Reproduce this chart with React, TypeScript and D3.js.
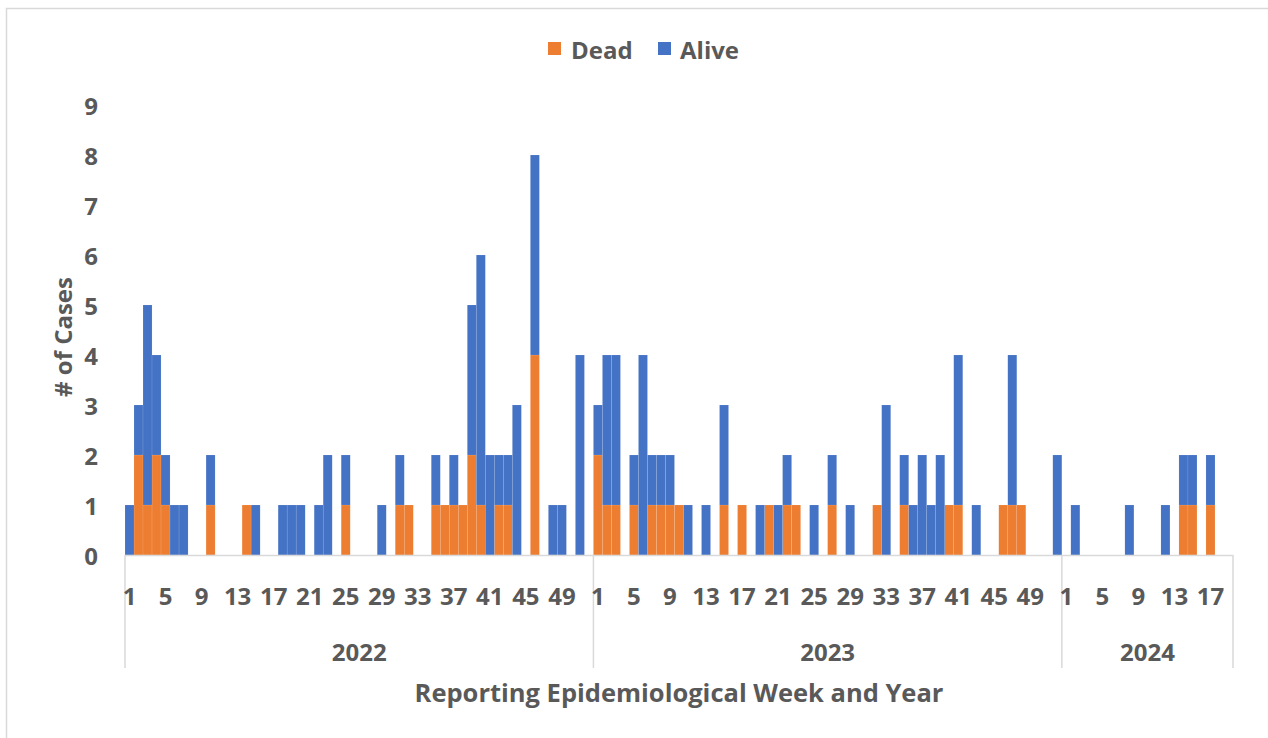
import React from "react";
import * as d3 from "d3";

const years = ["2022", "2023", "2024"];
const weeksPerYear = [52, 52, 19];

const dead2022 = [0,2,1,2,1,0,0,0,0,1, 0,0,0,1,0,0,0,0,0,0, 0,0,0,0,1,0,0,0,0,0, 1,1,0,0,1,1,1,1,2,1, 0,1,1,0,0,4,0,0,0,0, 0,0];
const alive2022 = [1,1,4,2,1,1,1,0,0,1, 0,0,0,0,1,0,0,1,1,1, 0,1,2,0,1,0,0,0,1,0, 1,0,0,0,1,0,1,0,3,5, 2,1,1,3,0,4,0,1,1,0, 4,0];
const dead2023 = [2,1,1,0,1,0,1,1,1,1, 0,0,0,0,1,0,1,0,0,1, 0,1,1,0,0,0,1,0,0,0, 0,1,0,0,1,0,0,0,0,1, 1,0,0,0,0,1,1,1,0,0, 0,0];
const alive2023 = [1,3,3,0,1,4,1,1,1,0, 1,0,1,0,2,0,0,0,1,0, 1,1,0,0,1,0,1,0,1,0, 0,0,3,0,1,1,2,1,2,0, 3,0,1,0,0,0,3,0,0,0, 0,2];
const dead2024 = [0,0,0,0,0,0,0,0,0,0, 0,0,0,1,1,0,1,0,0];
const alive2024 = [0,1,0,0,0,0,0,1,0,0, 0,1,0,1,1,0,1,0,0];

const yTicks = [0, 1, 2, 3, 4, 5, 6, 7, 8, 9];
const weekLabelStep = 4;

const deadByYear = [dead2022, dead2023, dead2024];
const aliveByYear = [alive2022, alive2023, alive2024];

type Row = { key: string; year: string; week: number; dead: number; alive: number };
const rows: Row[] = [];
years.forEach((y, yi) => {
  for (let w = 1; w <= weeksPerYear[yi]; w++) {
    rows.push({ key: `${y}-${w}`, year: y, week: w, dead: deadByYear[yi][w - 1], alive: aliveByYear[yi][w - 1] });
  }
});

const ORANGE = "#ED7D31";
const BLUE = "#4472C4";
const TEXT = "#595959";
const AXIS = "#D9D9D9";
const FONT = "'Open Sans', 'Noto Sans', sans-serif";
const FS = 24;

export default function App() {
  const W = 1268, H = 738;
  const left = 125, right = 1233, base = 555, top = 105;
  const x = d3.scaleBand<string>().domain(rows.map(r => r.key)).range([left, right]).padding(0);
  const y = d3.scaleLinear().domain([0, 9]).range([base, top]);
  const stack = d3.stack<Row>().keys(["dead", "alive"]);
  const series = stack(rows);
  const colors = [ORANGE, BLUE];

  const yearBounds = years.map(yr => {
    const rs = rows.filter(r => r.year === yr);
    const x0 = x(rs[0].key)!;
    const x1 = x(rs[rs.length - 1].key)! + x.bandwidth();
    return { yr, x0, x1 };
  });

  return (
    <svg width={W} height={H} style={{ position: "absolute", left: 0, top: 0, background: "#fff" }} fontFamily={FONT}>
      <rect x={6.5} y={8.5} width={W} height={H} fill="#fff" stroke={AXIS} strokeWidth={1.5} />
      {/* legend */}
      <g fontWeight="bold" fontSize={FS} fill={TEXT}>
        <rect x={548} y={42} width={13} height={13} fill={ORANGE} />
        <text x={571} y={49} dominantBaseline="central">Dead</text>
        <rect x={658} y={42} width={13} height={13} fill={BLUE} />
        <text x={680} y={49} dominantBaseline="central">Alive</text>
      </g>
      {/* bars */}
      {series.map((s, si) => (
        <g key={si} fill={colors[si]}>
          {s.map((d, i) => d[1] - d[0] > 0 ? (
            <rect key={i} x={x(rows[i].key)!} y={y(d[1])} width={x.bandwidth()} height={y(d[0]) - y(d[1])}
              stroke="#fff" strokeOpacity={0.2} strokeWidth={0.5} />
          ) : null)}
        </g>
      ))}
      {/* y axis labels */}
      <g fontWeight="bold" fontSize={FS} fill={TEXT}>
        {yTicks.map(t => (
          <text key={t} x={98} y={y(t)} textAnchor="end" dominantBaseline="central">{t}</text>
        ))}
      </g>
      <text transform={`translate(62,${(base + top) / 2 + 7}) rotate(-90)`} textAnchor="middle" dominantBaseline="central"
        fontWeight="bold" fontSize={FS} fill={TEXT}>
        # of Cases
      </text>
      {/* x axis */}
      <line x1={left} x2={right} y1={base + 0.5} y2={base + 0.5} stroke={AXIS} strokeWidth={1.5} />
      {yearBounds.map(b => (
        <line key={b.yr} x1={b.x0} x2={b.x0} y1={base} y2={668} stroke={AXIS} strokeWidth={1.5} />
      ))}
      <line x1={right} x2={right} y1={base} y2={668} stroke={AXIS} strokeWidth={1.5} />
      <g fontWeight="bold" fontSize={FS} fill={TEXT}>
        {rows.filter(r => (r.week - 1) % weekLabelStep === 0).map(r => (
          <text key={r.key} x={x(r.key)! + x.bandwidth() / 2} y={595} textAnchor="middle" dominantBaseline="central">{r.week}</text>
        ))}
        {yearBounds.map(b => (
          <text key={b.yr} x={(b.x0 + b.x1) / 2} y={651} textAnchor="middle" dominantBaseline="central">{b.yr}</text>
        ))}
      </g>
      <text x={(left + right) / 2} y={692} textAnchor="middle" dominantBaseline="central" fontWeight="bold" fontSize={25.5} fill={TEXT}>
        Reporting Epidemiological Week and Year
      </text>
    </svg>
  );
}
